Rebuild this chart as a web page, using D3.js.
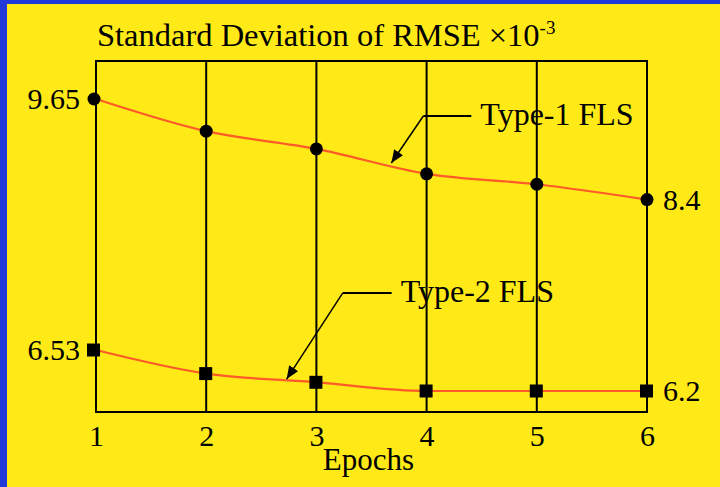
<!DOCTYPE html>
<html>
<head>
<meta charset="utf-8">
<script src="https://cdn.jsdelivr.net/npm/d3@7"></script>
<style>
  html, body { margin: 0; padding: 0; background: #2238d8; }
  svg { display: block; }
  text { font-family: "Liberation Serif", "Times New Roman", serif; fill: #000; }
</style>
</head>
<body>
<svg id="chart" width="720" height="487"></svg>
<script>
// Standard deviation of RMSE (x10^-3) per training epoch
const epochs = [1, 2, 3, 4, 5, 6];
const type1 = [9.65, 9.25, 9.03, 8.72, 8.59, 8.40];
const type2 = [6.53, 6.34, 6.27, 6.20, 6.20, 6.20];
const seriesNames = ["Type-1 FLS", "Type-2 FLS"];

const W = 720, H = 487;
const svg = d3.select("#chart");

// yellow panel inside a thin blue frame
svg.append("rect").attr("x", 7).attr("y", 4).attr("width", W - 7).attr("height", H - 4)
  .attr("fill", "#ffea18");

const plot = { left: 96, right: 647, top: 61, bottom: 412 };
const ph = plot.bottom - plot.top;

const x = d3.scaleLinear().domain(d3.extent(epochs)).range([plot.left, plot.right]);
// broken value axis: the gap between the two series is compressed
const y = d3.scaleLinear()
  .domain([d3.min(type2), d3.max(type2), d3.max(type1)])
  .range([plot.bottom - 21, plot.bottom - 62, plot.top + 38]);

// frame and vertical grid lines
svg.append("rect")
  .attr("x", plot.left).attr("y", plot.top)
  .attr("width", plot.right - plot.left).attr("height", ph)
  .attr("fill", "none").attr("stroke", "#000").attr("stroke-width", 2);

svg.append("g").selectAll("line").data(epochs.slice(1, -1)).join("line")
  .attr("x1", d => x(d)).attr("x2", d => x(d))
  .attr("y1", plot.top).attr("y2", plot.bottom)
  .attr("stroke", "#000").attr("stroke-width", 2);

// x axis labels
const xAxis = d3.axisBottom(x).tickValues(epochs).tickFormat(d3.format("d")).tickSize(0).tickPadding(0);
const gx = svg.append("g").attr("transform", `translate(0,${plot.bottom})`).call(xAxis);
gx.select(".domain").remove();
gx.selectAll("text")
  .attr("y", 34).attr("dy", null)
  .style("font-family", '"Liberation Serif", "Times New Roman", serif')
  .style("font-size", "30px").attr("fill", "#000");

svg.append("text").attr("x", (plot.left + plot.right) / 2 - 3).attr("y", 470)
  .attr("text-anchor", "middle").style("font-size", "31px").text("Epochs");

// title
const title = svg.append("text").attr("x", 97).attr("y", 46).style("font-size", "32.5px");
title.append("tspan").text("Standard Deviation of RMSE \u00d710");
title.append("tspan").attr("dy", -12).style("font-size", "19px").text("-3");

// curves
const line = d3.line().x((d, i) => x(epochs[i])).y(d => y(d)).curve(d3.curveMonotoneX);
[type1, type2].forEach(vals => {
  svg.append("path").datum(vals).attr("d", line)
    .attr("fill", "none").attr("stroke", "#ff5a28").attr("stroke-width", 2.2);
});

// markers
svg.append("g").selectAll("circle").data(type1).join("circle")
  .attr("cx", (d, i) => x(epochs[i]) - (i === 0 ? 2 : 0)).attr("cy", d => y(d))
  .attr("r", 6.5).attr("fill", "#000");
svg.append("g").selectAll("rect").data(type2).join("rect")
  .attr("x", (d, i) => x(epochs[i]) - 7 - (i === 0 ? 2 : 0)).attr("y", d => y(d) - 6.5)
  .attr("width", 13).attr("height", 13).attr("fill", "#000");

// end value labels
const fmt = d => String(+d.toFixed(2));
[type1, type2].forEach(vals => {
  svg.append("text").attr("x", plot.left - 16).attr("y", y(vals[0]) + 10)
    .attr("text-anchor", "end").style("font-size", "30px").text(fmt(vals[0]));
  svg.append("text").attr("x", plot.right + 16).attr("y", y(vals[vals.length - 1]) + 10)
    .style("font-size", "30px").text(fmt(vals[vals.length - 1]));
});

// series callouts with arrows
svg.append("defs").append("marker")
  .attr("id", "arrow").attr("viewBox", "0 0 12 10").attr("refX", 12).attr("refY", 5)
  .attr("markerUnits", "userSpaceOnUse").attr("markerWidth", 13).attr("markerHeight", 11)
  .attr("orient", "auto")
  .append("path").attr("d", "M0,0 L12,5 L0,10 Z").attr("fill", "#000");

const callouts = [
  { name: seriesNames[0], epoch: 3.68, value: 8.855, dx: 32, dy: -47, len: 48 },
  { name: seriesNames[1], epoch: 2.73, value: 6.296, dx: 56, dy: -86, len: 49 }
];
callouts.forEach(c => {
  const tx = x(c.epoch), ty = y(c.value);
  const ex = tx + c.dx, ey = ty + c.dy;
  svg.append("line").attr("x1", ex).attr("y1", ey).attr("x2", ex + c.len).attr("y2", ey)
    .attr("stroke", "#000").attr("stroke-width", 2);
  svg.append("line").attr("x1", ex).attr("y1", ey).attr("x2", tx).attr("y2", ty)
    .attr("stroke", "#000").attr("stroke-width", 1.5).attr("marker-end", "url(#arrow)");
  svg.append("text").attr("x", ex + c.len + 9).attr("y", ey + 9)
    .style("font-size", "32px").text(c.name);
});
</script>
</body>
</html>
